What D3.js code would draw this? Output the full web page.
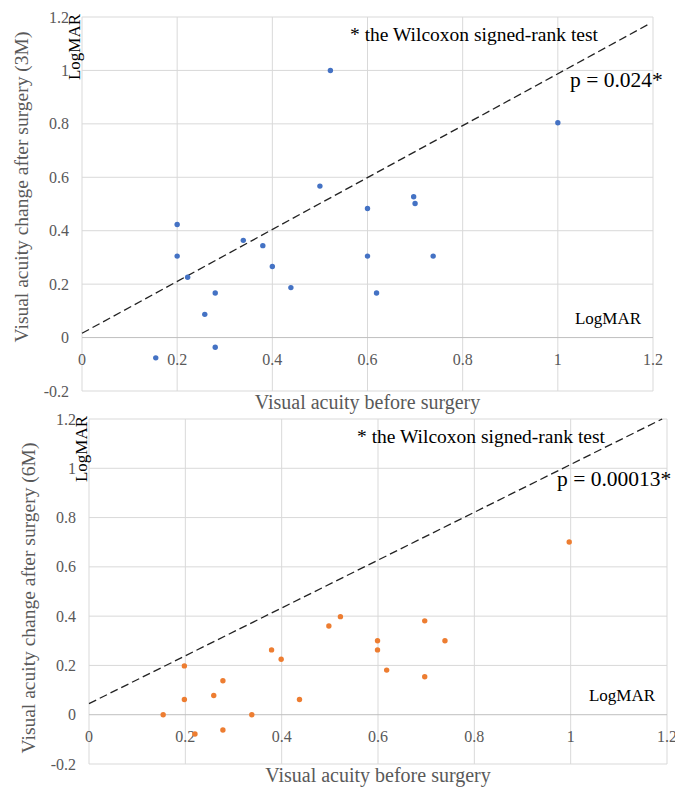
<!DOCTYPE html>
<html lang="en">
<head>
<meta charset="UTF-8">
<script src="https://cdn.jsdelivr.net/npm/d3@7/dist/d3.min.js"></script>
<title>Visual acuity</title>
<style>
  body { margin: 0; background: #fff; }
  svg { display: block; font-family: "Liberation Serif", serif; }
</style>
</head>
<body>
<script>
// axis ticks (LogMAR)
var xTicks = [0, 0.2, 0.4, 0.6, 0.8, 1, 1.2];
var yTicks = [-0.2, 0, 0.2, 0.4, 0.6, 0.8, 1, 1.2];

// 3 months
var before3M = [0.155, 0.2, 0.2, 0.222, 0.258, 0.28, 0.28, 0.339, 0.38, 0.4, 0.439, 0.5, 0.522, 0.6, 0.6, 0.619, 0.697, 0.7, 0.738, 1.0];
var after3M  = [-0.076, 0.423, 0.305, 0.226, 0.087, 0.167, -0.036, 0.364, 0.344, 0.266, 0.187, 0.567, 1.0, 0.483, 0.305, 0.167, 0.527, 0.502, 0.305, 0.804];
var line3M = [[0, 0.016], [1.194, 1.176]];

// 6 months
var before6M = [0.154, 0.198, 0.198, 0.22, 0.259, 0.278, 0.278, 0.338, 0.379, 0.399, 0.437, 0.498, 0.522, 0.599, 0.599, 0.618, 0.697, 0.697, 0.739, 0.997];
var after6M  = [0, 0.198, 0.062, -0.078, 0.078, 0.138, -0.062, 0, 0.263, 0.225, 0.062, 0.36, 0.398, 0.3, 0.263, 0.181, 0.381, 0.154, 0.3, 0.701];
var line6M = [[0, 0.045], [1.19, 1.2]];

var svg = d3.select("body").append("svg")
    .attr("width", 675)
    .attr("height", 792);

function fmt(d) { return String(+d.toFixed(1)); }

function panel(o) {
    var x = d3.scaleLinear().domain([0, 1.2]).range([o.left, o.right]);
    var y = d3.scaleLinear().domain([-0.2, 1.2]).range([o.bottom, o.top]);
    var g = svg.append("g");

    // grid
    g.selectAll("line.vg").data(xTicks).enter().append("line")
        .attr("x1", d => x(d)).attr("x2", d => x(d))
        .attr("y1", o.top).attr("y2", o.bottom)
        .attr("stroke", "#d9d9d9").attr("stroke-width", 1);
    g.selectAll("line.hg").data(yTicks).enter().append("line")
        .attr("x1", o.left).attr("x2", o.right)
        .attr("y1", d => y(d)).attr("y2", d => y(d))
        .attr("stroke", d => d === 0 ? "#bfbfbf" : "#d9d9d9").attr("stroke-width", 1);

    // tick labels
    g.selectAll("text.yt").data(yTicks).enter().append("text")
        .attr("x", o.left - 13).attr("y", d => y(d)).attr("dy", "0.35em")
        .attr("text-anchor", "end").attr("fill", "#595959").attr("font-size", 16)
        .text(fmt);
    g.selectAll("text.xt").data(xTicks).enter().append("text")
        .attr("x", d => x(d)).attr("y", y(0) + 27)
        .attr("text-anchor", "middle").attr("fill", "#595959").attr("font-size", 16)
        .text(fmt);

    // axis titles
    g.append("text")
        .attr("x", (o.left + o.right) / 2).attr("y", o.bottom + 18)
        .attr("text-anchor", "middle").attr("fill", "#595959").attr("font-size", 20)
        .text("Visual acuity before surgery");
    g.append("text")
        .attr("transform", "translate(" + o.ytx + "," + o.yty + ") rotate(-90)")
        .attr("text-anchor", "middle").attr("fill", "#595959").attr("font-size", 19.5)
        .text(o.ytitle);

    // reference line
    g.append("line")
        .attr("x1", x(o.line[0][0])).attr("y1", y(o.line[0][1]))
        .attr("x2", x(o.line[1][0])).attr("y2", y(o.line[1][1]))
        .attr("stroke", "#222").attr("stroke-width", 1.3)
        .attr("stroke-dasharray", "8,4");

    // points
    g.selectAll("circle").data(o.xs).enter().append("circle")
        .attr("cx", d => x(d))
        .attr("cy", (d, i) => y(o.ys[i]))
        .attr("r", 2.7)
        .attr("fill", o.color);

    // annotations
    g.append("text")
        .attr("transform", "translate(" + (o.left - 2) + "," + (o.top + 30) + ") rotate(-90)")
        .attr("text-anchor", "middle").attr("font-size", 17).attr("fill", "#000")
        .text("LogMAR");
    g.append("text")
        .attr("x", o.right - 12).attr("y", y(0) - 14)
        .attr("text-anchor", "end").attr("font-size", 17).attr("fill", "#000")
        .text("LogMAR");
    g.append("text")
        .attr("x", o.noteX).attr("y", o.top + 24)
        .attr("font-size", 19.5).attr("fill", "#000")
        .text("* the Wilcoxon signed-rank test");
    g.append("text")
        .attr("x", o.pX).attr("y", o.pY)
        .attr("font-size", 21.5).attr("fill", "#000")
        .text(o.p);
}

panel({
    left: 82, right: 653, top: 17, bottom: 391,
    xs: before3M, ys: after3M, line: line3M, color: "#4472c4",
    ytitle: "Visual acuity change after surgery (3M)", ytx: 28, yty: 187,
    noteX: 350, pX: 570, pY: 87, p: "p = 0.024*"
});
panel({
    left: 89, right: 667, top: 419, bottom: 764,
    xs: before6M, ys: after6M, line: line6M, color: "#ed7d31",
    ytitle: "Visual acuity change after surgery (6M)", ytx: 35, yty: 598,
    noteX: 357, pX: 557, pY: 486, p: "p = 0.00013*"
});
</script>
</body>
</html>
